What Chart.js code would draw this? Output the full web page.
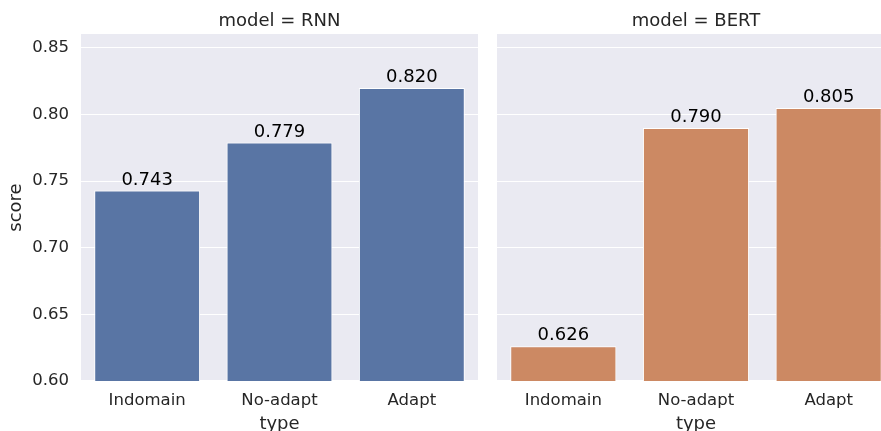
<!DOCTYPE html>
<html>
<head>
<meta charset="utf-8">
<script src="https://cdn.jsdelivr.net/npm/chart.js@4/dist/chart.umd.min.js"></script>
<style>
  html, body { margin: 0; background: #fff; overflow: hidden; }
  #wrap { position: relative; width: 881px; height: 431px; overflow: hidden; }
  #left { position: absolute; left: 0; top: 0; }
  #right { position: absolute; left: 497px; top: 0; }
</style>
</head>
<body>
<div id="wrap">
  <canvas id="left" width="478" height="431"></canvas>
  <canvas id="right" width="398" height="431"></canvas>
</div>
<script>
const types = ["Indomain", "No-adapt", "Adapt"];
const rnnScores = [0.743, 0.779, 0.820];
const bertScores = [0.626, 0.790, 0.805];
const tickValues = [0.60, 0.65, 0.70, 0.75, 0.80, 0.85];

const FONT = "DejaVu Sans";
const TEXT = "#262626";

// grey panel background
const panelBg = {
  id: "panelBg",
  beforeDraw(chart) {
    const a = chart.chartArea;
    const c = chart.ctx;
    c.save();
    c.fillStyle = "#EAEAF2";
    c.fillRect(a.left, a.top, a.right - a.left, a.bottom - a.top);
    c.restore();
  },
};

// facet title + value labels above bars
const labels = {
  id: "labels",
  afterDatasetsDraw(chart, args, opts) {
    const c = chart.ctx;
    const a = chart.chartArea;
    c.save();
    c.font = "18px '" + FONT + "'";
    c.fillStyle = TEXT;
    c.textAlign = "center";
    c.textBaseline = "alphabetic";
    c.fillText(opts.title, (a.left + a.right) / 2, 26);
    c.fillStyle = "#000";
    const meta = chart.getDatasetMeta(0);
    meta.data.forEach((bar, i) => {
      const v = chart.data.datasets[0].data[i];
      c.fillText(v.toFixed(3), bar.x, bar.y - 6);
    });
    c.restore();
  },
};

function makeChart(id, title, data, color, showY) {
  return new Chart(document.getElementById(id), {
    type: "bar",
    data: {
      labels: types,
      datasets: [{
        data: data,
        backgroundColor: color,
        borderColor: "#ffffff",
        borderWidth: 1,
        borderSkipped: false,
        barPercentage: 0.8,
        categoryPercentage: 1,
      }],
    },
    options: {
      responsive: false,
      animation: false,
      layout: { padding: { top: 34, left: 0, right: 0, bottom: 0 } },
      plugins: {
        legend: { display: false },
        tooltip: { enabled: false },
        labels: { title: title },
      },
      scales: {
        x: {
          grid: { display: false, drawTicks: false },
          border: { display: false },
          ticks: { color: TEXT, font: { family: FONT, size: 16.5 }, padding: 10 },
          title: { display: true, text: "type", color: TEXT, font: { family: FONT, size: 18 }, padding: { top: 0, bottom: -4 } },
          afterFit(scale) { scale.height = 50; },
        },
        y: {
          min: 0.60,
          max: 0.8605,
          grid: { color: "#ffffff", lineWidth: 1.1, drawTicks: false },
          border: { display: false },
          afterBuildTicks(scale) { scale.ticks = tickValues.map(v => ({ value: v })); },
          ticks: {
            display: showY,
            color: TEXT,
            font: { family: FONT, size: 16.5 },
            padding: 12,
            callback: v => v.toFixed(2),
          },
          title: { display: showY, text: "score", color: TEXT, font: { family: FONT, size: 18 }, padding: { top: 6, bottom: 0 } },
          afterFit(scale) { scale.width = showY ? 81 : 0; },
        },
      },
    },
    plugins: [panelBg, labels],
  });
}

makeChart("left", "model = RNN", rnnScores, "#5975a4", true);
makeChart("right", "model = BERT", bertScores, "#cc8963", false);
</script>
</body>
</html>
